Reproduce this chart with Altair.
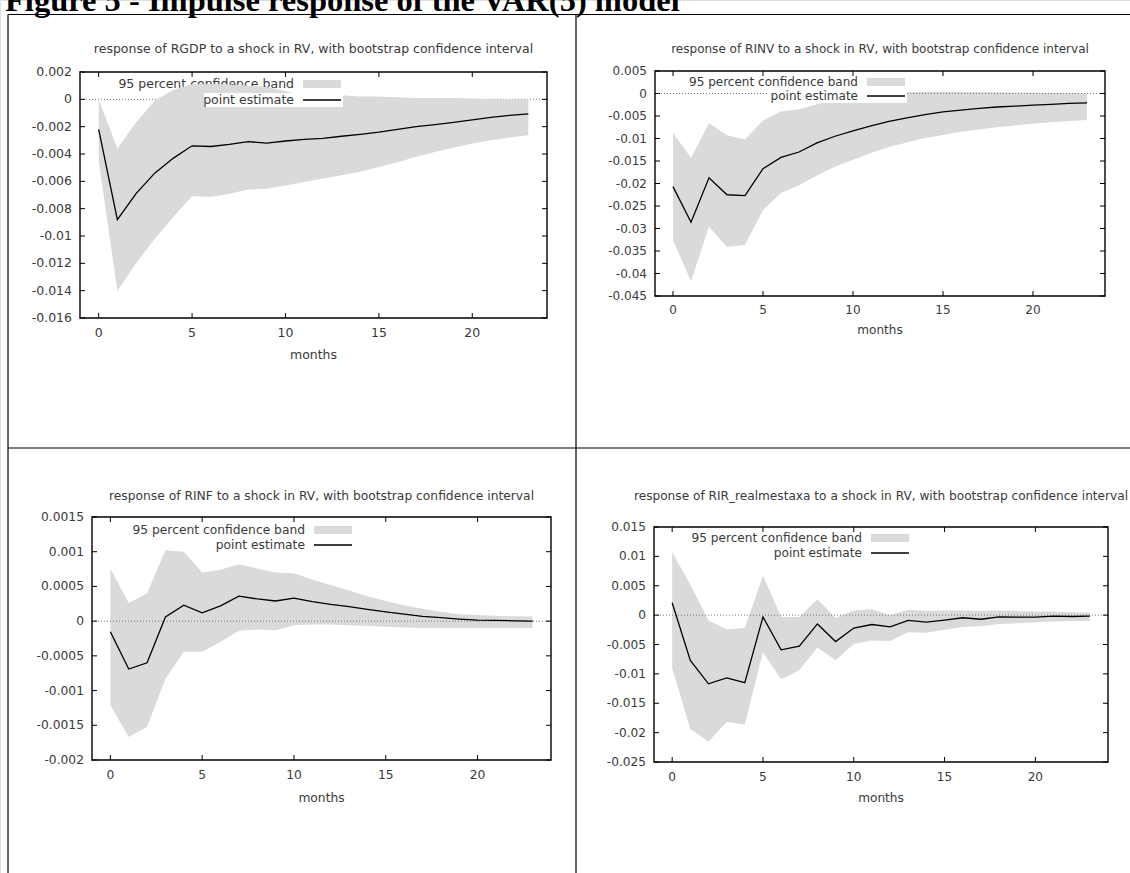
import altair as alt
import pandas as pd

months = list(range(24))

# ---- data ----
rgdp_est = [-0.0022, -0.0088, -0.0069, -0.0054, -0.0043, -0.0034, -0.00345, -0.0033, -0.0031, -0.0032,
            -0.00305, -0.00293, -0.00285, -0.0027, -0.00256, -0.0024, -0.0022, -0.0020, -0.00185, -0.00168,
            -0.0015, -0.00132, -0.00117, -0.00107]
rgdp_hi = [0.0, -0.0036, -0.0017, -0.0001, 0.0007, 0.0011, 0.0011, 0.0011, 0.0010, 0.0009,
           0.0006, 0.0003, 0.0003, 0.0003, 0.0002, 0.0002, 0.00015, 0.0001, 0.0001, 0.0001,
           0.00005, 0.0, 0.0, 0.0]
rgdp_lo = [-0.0045, -0.0140, -0.0120, -0.0102, -0.0086, -0.0071, -0.00715, -0.0069, -0.0066, -0.00655,
           -0.0063, -0.00605, -0.0058, -0.00556, -0.0053, -0.00495, -0.0046, -0.0042, -0.00385, -0.00354,
           -0.00324, -0.0030, -0.0028, -0.00263]

rinv_est = [-0.0207, -0.0286, -0.01875, -0.0225, -0.0227, -0.0167, -0.0142, -0.0130, -0.01096, -0.0095,
            -0.0083, -0.0072, -0.0062, -0.0054, -0.0047, -0.0041, -0.0037, -0.0033, -0.0030, -0.0028,
            -0.0026, -0.0024, -0.0022, -0.0021]
rinv_hi = [-0.0088, -0.0143, -0.0066, -0.0093, -0.0102, -0.0060, -0.0040, -0.0035, -0.0024, -0.0015,
           -0.0008, -0.0003, 0.0, 0.0003, 0.0004, 0.0004, 0.0004, 0.0003, 0.0003, 0.0002,
           0.0002, 0.0001, 0.0001, 0.0]
rinv_lo = [-0.0326, -0.0417, -0.0296, -0.0341, -0.0336, -0.0259, -0.0221, -0.0204, -0.0182, -0.0163,
           -0.0147, -0.0132, -0.0119, -0.0109, -0.0099, -0.0092, -0.0085, -0.0080, -0.0075, -0.0071,
           -0.0067, -0.0064, -0.0061, -0.0059]

rinf_est = [-0.000154, -0.00069, -0.0006, 0.00006, 0.00023, 0.00012, 0.00022, 0.00036, 0.00032, 0.00029,
            0.00033, 0.00028, 0.00024, 0.00021, 0.00017, 0.000135, 0.0001, 0.00007, 0.00005, 0.00003,
            0.000015, 0.00001, 0.000005, 0.0]
rinf_hi = [0.00076, 0.00026, 0.0004, 0.00102, 0.0010, 0.0007, 0.00074, 0.00082, 0.00076, 0.0007,
           0.00069, 0.0006, 0.00052, 0.00044, 0.00036, 0.00029, 0.00023, 0.00018, 0.000135, 0.0001,
           0.000087, 0.000077, 0.00007, 0.000067]
rinf_lo = [-0.00121, -0.00167, -0.00152, -0.00083, -0.00044, -0.00044, -0.0003, -0.00014, -0.00012, -0.00013,
           -0.00006, -0.00005, -0.00005, -0.00006, -0.00007, -0.00008, -0.00009, -0.0001, -0.0001, -0.0001,
           -0.0001, -0.0001, -0.0001, -0.0001]

rir_est = [0.0021, -0.0077, -0.0117, -0.0107, -0.0115, -0.0003, -0.0059, -0.0053, -0.0015, -0.0045,
           -0.0022, -0.0016, -0.0020, -0.0009, -0.0012, -0.00085, -0.00045, -0.0007, -0.0003, -0.00034,
           -0.00034, -0.00017, -0.00023, -0.00017]
rir_hi = [0.0107, 0.0052, -0.0009, -0.0024, -0.0022, 0.0067, -0.0003, -0.0003, 0.0027, -0.0005,
          0.0008, 0.0010, 0.0, 0.0009, 0.0007, 0.0008, 0.0008, 0.0007, 0.0008, 0.0007,
          0.0006, 0.0006, 0.0005, 0.0004]
rir_lo = [-0.0090, -0.0194, -0.0215, -0.0182, -0.0186, -0.0063, -0.0109, -0.0094, -0.0055, -0.0077,
          -0.0049, -0.0043, -0.0044, -0.0029, -0.0030, -0.0025, -0.0020, -0.0019, -0.0015, -0.0014,
          -0.0012, -0.0011, -0.0010, -0.0010]

x_ticks = [0, 5, 10, 15, 20]
x_tick_labels = ["0", "5", "10", "15", "20"]

rgdp_yticks = [0.002, 0.0, -0.002, -0.004, -0.006, -0.008, -0.01, -0.012, -0.014, -0.016]
rgdp_ylabels = ["0.002", "0", "-0.002", "-0.004", "-0.006", "-0.008", "-0.01", "-0.012", "-0.014", "-0.016"]
rinv_yticks = [0.005, 0.0, -0.005, -0.01, -0.015, -0.02, -0.025, -0.03, -0.035, -0.04, -0.045]
rinv_ylabels = ["0.005", "0", "-0.005", "-0.01", "-0.015", "-0.02", "-0.025", "-0.03", "-0.035", "-0.04", "-0.045"]
rinf_yticks = [0.0015, 0.001, 0.0005, 0.0, -0.0005, -0.001, -0.0015, -0.002]
rinf_ylabels = ["0.0015", "0.001", "0.0005", "0", "-0.0005", "-0.001", "-0.0015", "-0.002"]
rir_yticks = [0.015, 0.01, 0.005, 0.0, -0.005, -0.01, -0.015, -0.02, -0.025]
rir_ylabels = ["0.015", "0.01", "0.005", "0", "-0.005", "-0.01", "-0.015", "-0.02", "-0.025"]

titles = [
    "response of RGDP to a shock in RV, with bootstrap confidence interval",
    "response of RINV to a shock in RV, with bootstrap confidence interval",
    "response of RINF to a shock in RV, with bootstrap confidence interval",
    "response of RIR_realmestaxa to a shock in RV, with bootstrap confidence interval",
]
fig_title = "Figure 5 - Impulse response of the VAR(5) model"
x_title = "months"
legend_band = "95 percent confidence band"
legend_line = "point estimate"

# ---- layout (pixels) ----
layout = [
    dict(box=(80, 547, 72, 318), title_y=49, xlab_y=333, xtitle_y=355, leg=(294, 84, 100), band_over_legend=True),
    dict(box=(655, 1105, 71, 296), title_y=49, xlab_y=310, xtitle_y=330, leg=(858, 82, 96), band_over_legend=False),
    dict(box=(92, 551, 517, 760), title_y=496, xlab_y=775, xtitle_y=798, leg=(305, 530, 545), band_over_legend=False),
    dict(box=(654, 1108, 527, 762), title_y=496, xlab_y=777, xtitle_y=798, leg=(862, 538, 553), band_over_legend=False),
]

series = [
    (rgdp_est, rgdp_lo, rgdp_hi, rgdp_yticks, rgdp_ylabels),
    (rinv_est, rinv_lo, rinv_hi, rinv_yticks, rinv_ylabels),
    (rinf_est, rinf_lo, rinf_hi, rinf_yticks, rinf_ylabels),
    (rir_est, rir_lo, rir_hi, rir_yticks, rir_ylabels),
]

FONT = "DejaVu Sans"
TXT = "#3a3a3a"
BAND = "#dadada"
one = pd.DataFrame({"k": [0]})


def panel(i):
    est, lo, hi, yt, yl = series[i]
    L = layout[i]
    x0, x1, y0, y1 = L["box"]
    FS = round(12.5 * (x1 - x0) / 467, 2)
    ymin, ymax = min(yt), max(yt)
    xs = alt.Scale(domain=[-1, 24], range=[x0, x1], nice=False, zero=False)
    ys = alt.Scale(domain=[ymin, ymax], range=[y1, y0], nice=False, zero=False)
    df = pd.DataFrame({"m": months, "est": est, "lo": lo, "hi": hi})
    X = alt.X("m:Q", scale=xs, axis=None)

    band = alt.Chart(df).mark_area(color=BAND, opacity=1).encode(
        x=X, y=alt.Y("lo:Q", scale=ys, axis=None), y2="hi:Q")
    line = alt.Chart(df).mark_line(color="black", strokeWidth=1.3).encode(
        x=X, y=alt.Y("est:Q", scale=ys, axis=None))
    zero = alt.Chart(one).mark_rule(color="#777777", strokeDash=[1, 2], strokeWidth=1).encode(
        x=alt.X(datum=-1, scale=xs, axis=None), x2=alt.X2(datum=24),
        y=alt.Y(datum=0, scale=ys, axis=None))
    frame = alt.Chart(one).mark_rect(fill=None, stroke="black", strokeWidth=1.4).encode(
        x=alt.X(datum=-1, scale=xs, axis=None), x2=alt.X2(datum=24),
        y=alt.Y(datum=ymin, scale=ys, axis=None), y2=alt.Y2(datum=ymax))

    xt = pd.DataFrame({"v": x_ticks, "t": x_tick_labels})
    yt_df = pd.DataFrame({"v": yt, "t": yl})
    xtick_b = alt.Chart(xt).mark_rule(color="black", strokeWidth=1).encode(
        x=alt.X("v:Q", scale=xs, axis=None), y=alt.value(y1), y2=alt.value(y1 - 5))
    xtick_t = alt.Chart(xt).mark_rule(color="black", strokeWidth=1).encode(
        x=alt.X("v:Q", scale=xs, axis=None), y=alt.value(y0), y2=alt.value(y0 + 5))
    ytick_l = alt.Chart(yt_df).mark_rule(color="black", strokeWidth=1).encode(
        y=alt.Y("v:Q", scale=ys, axis=None), x=alt.value(x0), x2=alt.value(x0 + 5))
    ytick_r = alt.Chart(yt_df).mark_rule(color="black", strokeWidth=1).encode(
        y=alt.Y("v:Q", scale=ys, axis=None), x=alt.value(x1), x2=alt.value(x1 - 5))
    xlab = alt.Chart(xt).mark_text(font=FONT, fontSize=FS, color=TXT, baseline="middle").encode(
        x=alt.X("v:Q", scale=xs, axis=None), y=alt.value(L["xlab_y"]), text="t:N")
    ylab = alt.Chart(yt_df).mark_text(font=FONT, fontSize=FS, color=TXT, align="right", baseline="middle").encode(
        y=alt.Y("v:Q", scale=ys, axis=None), x=alt.value(x0 - 8), text="t:N")

    cx = (x0 + x1) / 2
    ttl = alt.Chart(pd.DataFrame({"t": [titles[i]]})).mark_text(
        font=FONT, fontSize=FS, color=TXT, baseline="middle").encode(
        x=alt.value(cx), y=alt.value(L["title_y"]), text="t:N")
    xttl = alt.Chart(pd.DataFrame({"t": [x_title]})).mark_text(
        font=FONT, fontSize=FS, color=TXT, baseline="middle").encode(
        x=alt.value(cx), y=alt.value(L["xtitle_y"]), text="t:N")

    lx, ly1, ly2 = L["leg"]
    leg_bg1 = alt.Chart(one).mark_rect(color="white").encode(
        x=alt.value(lx - 168), x2=alt.value(lx + 49), y=alt.value(ly1 - 7), y2=alt.value(ly1 + 7))
    leg_bg2 = alt.Chart(one).mark_rect(color="white").encode(
        x=alt.value(lx - 90), x2=alt.value(lx + 49), y=alt.value(ly2 - 7), y2=alt.value(ly2 + 7))
    leg_t1 = alt.Chart(pd.DataFrame({"t": [legend_band]})).mark_text(
        font=FONT, fontSize=FS, color=TXT, align="right", baseline="middle").encode(
        x=alt.value(lx), y=alt.value(ly1), text="t:N")
    leg_t2 = alt.Chart(pd.DataFrame({"t": [legend_line]})).mark_text(
        font=FONT, fontSize=FS, color=TXT, align="right", baseline="middle").encode(
        x=alt.value(lx), y=alt.value(ly2), text="t:N")
    leg_sw = alt.Chart(one).mark_rect(color=BAND).encode(
        x=alt.value(lx + 9), x2=alt.value(lx + 47), y=alt.value(ly1 - 4), y2=alt.value(ly1 + 4))
    leg_ln = alt.Chart(one).mark_rule(color="black", strokeWidth=1.3).encode(
        x=alt.value(lx + 9), x2=alt.value(lx + 47), y=alt.value(ly2))

    if L["band_over_legend"]:
        layers = [zero, leg_t1, band, leg_sw, leg_bg2, leg_t2, leg_ln, line]
    else:
        layers = [band, zero, leg_bg1, leg_bg2, leg_t1, leg_t2, leg_sw, leg_ln, line]
    layers += [frame, xtick_b, xtick_t, ytick_l, ytick_r, xlab, ylab, ttl, xttl]
    return alt.layer(*layers)


# ---- page decorations: table borders and figure caption ----
borders = pd.DataFrame({
    "x": [8, 8, 576, 8], "x2": [1130, 8, 576, 1130],
    "y": [14.5, 14.5, 14.5, 448], "y2": [14.5, 873, 873, 448],
})
border_layer = alt.Chart(borders).mark_rule(color="black", strokeWidth=1.2).encode(
    x=alt.X("x:Q", scale=alt.Scale(domain=[0, 1130], range=[0, 1130]), axis=None),
    x2="x2:Q",
    y=alt.Y("y:Q", scale=alt.Scale(domain=[0, 873], range=[0, 873]), axis=None),
    y2="y2:Q",
)
caption = alt.Chart(pd.DataFrame({"t": [fig_title]})).mark_text(
    font="Liberation Serif", fontSize=32.5, fontWeight="bold", color="black",
    align="left", baseline="alphabetic").encode(
    x=alt.value(5), y=alt.value(11), text="t:N")

chart = alt.layer(
    border_layer, caption, panel(0), panel(1), panel(2), panel(3)
).resolve_scale(x="independent", y="independent").properties(
    width=1130, height=873, padding=0, autosize="none"
).configure_view(stroke=None).configure(background="white")

chart.save("out.html", embed_options={"renderer": "svg", "actions": False})
